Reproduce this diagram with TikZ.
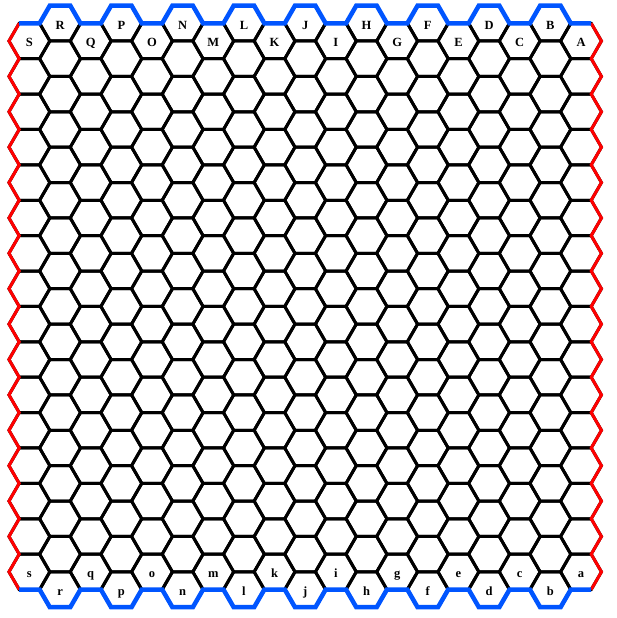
\documentclass[tikz,border=0pt]{standalone}
\usepackage{fontspec}
\setmainfont{Liberation Serif}
\definecolor{edgeblue}{RGB}{0,85,255}
\definecolor{edgered}{RGB}{255,0,0}
\tikzset{
  hexline/.style={draw=black,line width=3pt,line join=miter},
  redline/.style={draw=edgered,line width=3pt,line join=miter},
  blueline/.style={draw=edgeblue,line width=4.5pt,line join=miter},
  lbl/.style={anchor=base,inner sep=0pt,font=\fontsize{12.5}{12.5}\selectfont\bfseries}
}
\begin{document}
\begin{tikzpicture}[x=1pt,y=-1pt]
\useasboundingbox (0,0) rectangle (616,618);
% geometry: side s=20.43, column step 30.645, row step 35.39
% even columns: 16 hexes, centres from y=41; odd columns: 17 hexes, centres from y=23.305
\foreach \i in {0,2,...,18}{
  \foreach \j in {0,...,15}{
    \path[hexline] ({29.4+30.645*\i},{41+35.39*\j})
      +(20.43,0) -- +(10.215,17.695) -- +(-10.215,17.695) -- +(-20.43,0)
      -- +(-10.215,-17.695) -- +(10.215,-17.695) -- cycle;
  }
}
\foreach \i in {1,3,...,17}{
  \foreach \j in {0,...,16}{
    \path[hexline] ({29.4+30.645*\i},{23.305+35.39*\j})
      +(20.43,0) -- +(10.215,17.695) -- +(-10.215,17.695) -- +(-20.43,0)
      -- +(-10.215,-17.695) -- +(10.215,-17.695) -- cycle;
  }
}
% red left and right sides
\path[redline] (19.185,23.305)
  \foreach \j in {0,...,15}{ -- (8.97,{41+35.39*\j}) -- (19.185,{58.695+35.39*\j}) };
\path[redline] (591.225,23.305)
  \foreach \j in {0,...,15}{ -- (601.44,{41+35.39*\j}) -- (591.225,{58.695+35.39*\j}) };
% blue top and bottom sides
\path[blueline] (19.185,23.305)
  \foreach \i in {0,...,18}{
    -- ({29.4+30.645*\i-10.215},{23.305-17.695*mod(\i,2)})
    -- ({29.4+30.645*\i+10.215},{23.305-17.695*mod(\i,2)}) };
\path[blueline] (19.185,589.545)
  \foreach \i in {0,...,18}{
    -- ({29.4+30.645*\i-10.215},{589.545+17.695*mod(\i,2)})
    -- ({29.4+30.645*\i+10.215},{589.545+17.695*mod(\i,2)}) };
% labels
\foreach \L [count=\c from 0] in {S,R,Q,P,O,N,M,L,K,J,I,H,G,F,E,D,C,B,A}{
  \node[lbl] (top\c) at ({29.4+30.645*\c},{46.8-17.695*mod(\c,2)}) {\L};
}
\foreach \L [count=\c from 0] in {s,r,q,p,o,n,m,l,k,j,i,h,g,f,e,d,c,b,a}{
  \node[lbl] (bot\c) at ({29.4+30.645*\c},{577.3+17.695*mod(\c,2)}) {\L};
}
\end{tikzpicture}
\end{document}
